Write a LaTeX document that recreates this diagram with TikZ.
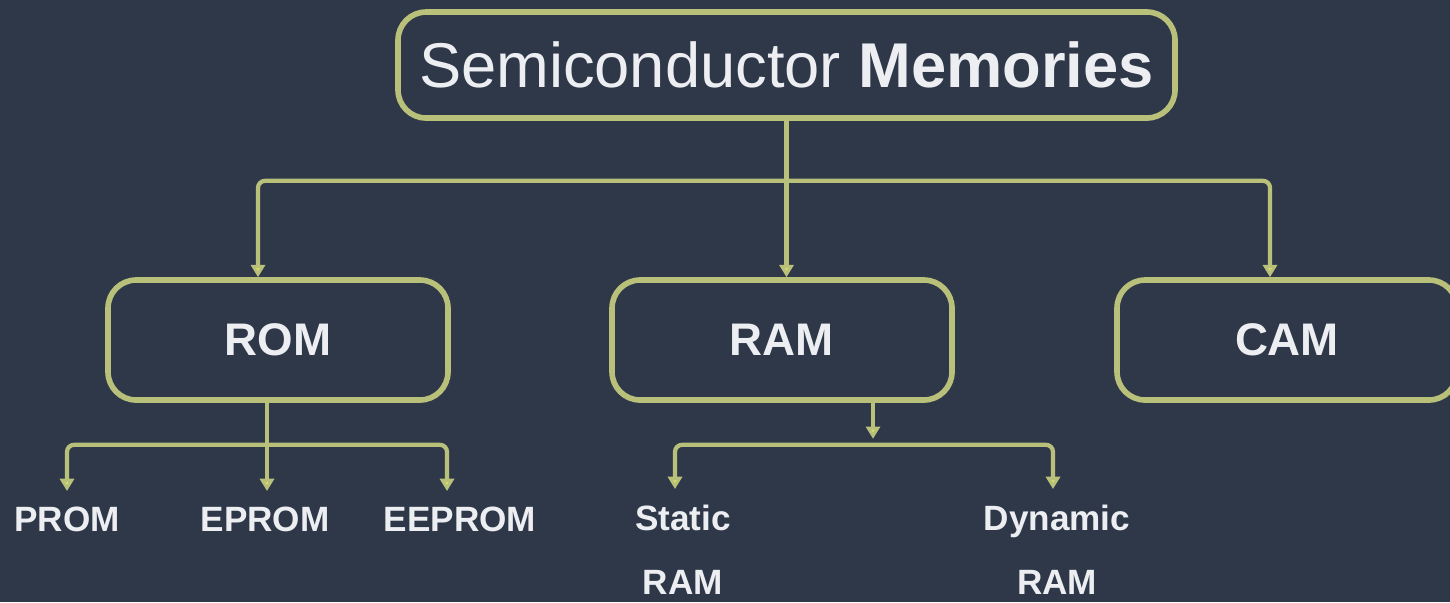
\documentclass[tikz,border=0pt]{standalone}
\usepackage{fontspec}
\setmainfont{Liberation Sans}
\usetikzlibrary{arrows.meta,positioning,calc}
\definecolor{bgcol}{RGB}{46,56,73}
\definecolor{lncol}{RGB}{184,192,122}
\definecolor{tipcol}{RGB}{214,222,104}
\definecolor{txtcol}{RGB}{236,238,242}

\begin{document}
\begin{tikzpicture}[
		tier/.style={draw=lncol, line width=1.6pt, rounded corners=8pt,
			minimum width=#1, align=center, text=txtcol},
		leaf/.style={align=center, text=txtcol,
			font=\bfseries\fontsize{10}{18}\selectfont},
		link/.style={draw=lncol, line width=1.2pt, rounded corners=2pt},
		arr/.style={link, -{Triangle[width=4pt,length=3.5pt,fill=tipcol]}}
		]
		\useasboundingbox (0,0) rectangle (14.5,-6.02);
		\fill[bgcol] (0,0) rectangle (14.5,-6.02);
		
		% ── Top level ──
		\node[tier=7.77cm, minimum height=1.06cm, font=\fontsize{18}{20}\selectfont]
			(semi) at (7.865,-0.65) {Semiconductor \textbf{Memories}};
		
		% ── Second level ──
		\node[tier=3.4cm, minimum height=1.2cm, font=\bfseries\fontsize{13}{15}\selectfont]
			(rom) at (2.78,-3.40) {ROM};
		\node[tier=3.4cm, minimum height=1.2cm, font=\bfseries\fontsize{13}{15}\selectfont]
			(ram) at (7.82,-3.40) {RAM};
		\node[tier=3.4cm, minimum height=1.2cm, font=\bfseries\fontsize{13}{15}\selectfont]
			(cam) at (12.87,-3.40) {CAM};
		
		% ── Third level ──
		\node[leaf, anchor=north] (prom)   at (0.67,-4.95) {PROM};
		\node[leaf, anchor=north] (eprom)  at (2.65,-4.95) {EPROM};
		\node[leaf, anchor=north] (eeprom) at (4.60,-4.95) {EEPROM};
		\node[leaf, anchor=north] (sram)   at (6.83,-4.93) {Static\\RAM};
		\node[leaf, anchor=north] (dram)   at (10.57,-4.93) {Dynamic\\RAM};
		
		% Arrows from the top box
		\draw[link] (semi.south) -- ++(0,-0.6) coordinate (jtop);
		\draw[arr] (jtop) -| ([xshift=-0.2cm]rom.north);
		\draw[arr] (jtop) -- (ram.north -| jtop);
		\draw[arr] (jtop) -| ([xshift=-0.17cm]cam.north);
		
		% Arrows below ROM
		\draw[link] ([xshift=-0.11cm]rom.south) -- ++(0,-0.42) coordinate (jrom);
		\draw[arr] (jrom) -| ([yshift=0.04cm]prom.north);
		\draw[arr] (jrom) -- ([yshift=0.04cm]eprom.north -| jrom);
		\draw[arr] (jrom) -| ([yshift=0.04cm,xshift=-0.13cm]eeprom.north);
		
		% Arrows below RAM
		\draw[arr] ([xshift=0.91cm]ram.south) -- ++(0,-0.36) coordinate (jram);
		\draw[link] (jram) ++(0,-0.06) coordinate (jram2);
		\draw[arr] (jram2) -| ([yshift=0.04cm,xshift=-0.08cm]sram.north);
		\draw[arr] (jram2) -| ([yshift=0.04cm,xshift=-0.04cm]dram.north);
	\end{tikzpicture}
\end{document}
